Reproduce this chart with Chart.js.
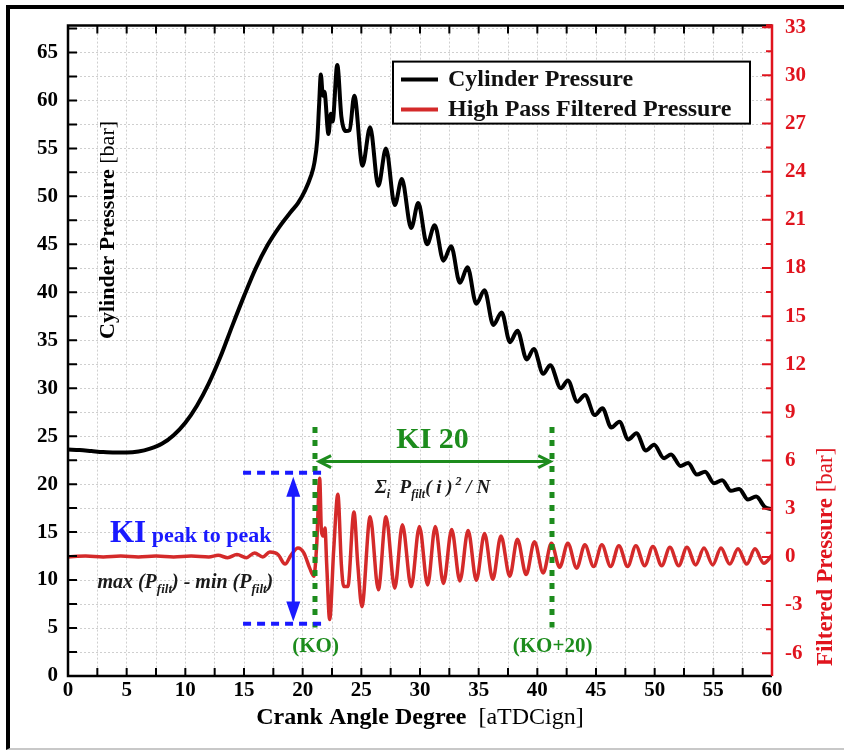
<!DOCTYPE html>
<html>
<head>
<meta charset="utf-8">
<script src="https://cdn.jsdelivr.net/npm/chart.js@4.4.0/dist/chart.umd.min.js"></script>
<style>
  html, body { margin: 0; padding: 0; background: #fff; }
  #wrap { position: relative; width: 844px; height: 750px; overflow: hidden; }
  #frame { position: absolute; left: 6px; top: 5px; width: 900px; height: 739px;
           border-left: 4px solid #000; border-top: 4px solid #000; border-bottom: 2px solid #c8c8c8;
           pointer-events: none; }
  canvas { position: absolute; left: 0; top: 0; }
</style>
</head>
<body>
<div id="wrap">
  <canvas id="chart" width="844" height="750"></canvas>
  <div id="frame"></div>
</div>
<script>
// Cylinder pressure [bar] vs crank angle [deg aTDCign]
const cylAngle = [0, 1, 2, 3, 4, 5, 6, 7, 8, 9, 10, 11, 12, 13, 14, 15, 16, 17, 18, 19,
  19.6, 20.2, 20.7, 21.0, 21.25, 21.4, 21.55, 21.72, 21.85, 22.2, 22.4, 22.55, 22.95, 23.3, 23.7, 24.0,
  24.4, 25.1, 25.75, 26.45, 27.1, 27.85, 28.45, 29.25, 29.85, 30.6, 31.25, 32.0, 32.65, 33.4, 34.05,
  34.8, 35.5, 36.25, 36.96, 37.67, 38.3, 39.1, 39.7, 40.5, 41.1, 42.0, 42.6, 43.4, 44.06, 44.9, 45.55,
  46.3, 47.0, 47.75, 48.45, 49.25, 49.95, 50.8, 51.4, 52.2, 52.85, 53.6, 54.3, 55.05, 55.75, 56.5,
  57.2, 57.95, 58.65, 59.4, 60.0];
const cylPressure = [23.6, 23.55, 23.45, 23.35, 23.3, 23.3, 23.4, 23.7, 24.2, 25.1, 26.4, 28.2, 30.5,
  33.3, 36.5, 39.6, 42.5, 44.9, 46.8, 48.4,
  49.3, 50.6, 52.1, 53.5, 56.0, 59.5, 62.7, 60.5, 60.9, 56.5, 58.6, 57.8, 63.7, 58.3, 56.8, 56.9,
  60.5, 53.2, 57.2, 51.1, 55.0, 49.1, 51.8, 46.7, 49.3, 45.0, 47.0, 43.3, 44.8, 41.0, 42.6,
  38.8, 40.2, 36.6, 37.9, 34.8, 36.0, 33.0, 34.1, 31.5, 32.4, 30.0, 30.8, 28.6, 29.3, 27.2, 27.9,
  25.9, 26.5, 24.65, 25.3, 23.5, 24.1, 22.7, 23.1, 21.9, 22.2, 21.0, 21.3, 20.1, 20.4, 19.3,
  19.5, 18.4, 18.7, 17.6, 17.4];

// High pass filtered pressure [bar]
const filtAngle = [0, 1.5, 3, 4.5, 6, 7.5, 9, 10.5, 12, 12.8, 13.6, 14.4, 15.2, 15.9, 16.6, 17.2,
  17.9, 18.5, 19.0, 19.6, 20.1, 20.6, 20.95, 21.2, 21.45, 21.6, 21.75, 21.9, 22.05, 22.3, 22.65,
  23.0, 23.3, 23.5, 23.85, 24.37, 24.7, 25.05, 25.75, 26.45, 27.1, 27.85, 28.5, 29.25, 29.95,
  30.65, 31.3, 32.0, 32.7, 33.4, 34.1, 34.8, 35.5, 36.2, 36.9, 37.65, 38.3, 39.05, 39.75, 40.5,
  41.2, 41.9, 42.6, 43.35, 44.05, 44.8, 45.5, 46.25, 46.95, 47.7, 48.4, 49.15, 49.85, 50.6, 51.3,
  52.05, 52.75, 53.5, 54.2, 54.95, 55.65, 56.4, 57.1, 57.85, 58.55, 59.3, 60];
const filtPressure = [0, 0.05, 0, 0.05, 0, 0.05, 0, 0.05, 0, 0.1, -0.05, 0.15, -0.05, 0.25, 0, 0.3,
  0.15, -0.45, 0.1, 0.55, 0.25, -0.7, -1.2, 0.8, 4.9, 1.6, 1.3, 1.8, -0.5, -3.9, 0.5,
  3.9, -0.5, -1.85, -1.85, 2.8, -0.5, -3.1, 2.5, -2.05, 2.5, -1.95, 2.0, -1.85, 1.9,
  -1.75, 1.9, -1.65, 1.7, -1.5, 1.65, -1.45, 1.45, -1.4, 1.3, -1.2, 1.1, -1.1, 0.95, -1.0,
  0.85, -0.65, 0.85, -0.7, 0.75, -0.6, 0.75, -0.6, 0.7, -0.6, 0.7, -0.55, 0.65, -0.55, 0.6,
  -0.55, 0.6, -0.5, 0.55, -0.5, 0.55, -0.45, 0.5, -0.45, 0.5, -0.4, 0.1];

const seriesNames = ['Cylinder Pressure', 'High Pass Filtered Pressure'];

const SERIF = '"Liberation Serif", "Times New Roman", serif';
const LINE_RED = '#d42a2a';
const AXIS_RED = '#e0141e';
const GREEN = '#1d8c1d';
const BLUE = '#1a1aff';

function isMultiple(v, step) {
   return Math.abs(v / step - Math.round(v / step)) < 1e-6;
}

function drawRich(ctx, parts, x, y, align, baseline) {
   let w = 0;
   parts.forEach(p => { ctx.font = p.font; w += ctx.measureText(p.text).width; });
   let cx = align === 'center' ? x - w / 2 : (align === 'right' ? x - w : x);
   ctx.textAlign = 'left';
   ctx.textBaseline = baseline || 'alphabetic';
   parts.forEach(p => {
      ctx.font = p.font;
      ctx.fillStyle = p.color;
      ctx.fillText(p.text, cx, y + (p.dy || 0));
      cx += ctx.measureText(p.text).width;
   });
}

function arrowHead(ctx, x, y, angle, len, half, filled) {
   ctx.save();
   ctx.translate(x, y);
   ctx.rotate(angle);
   ctx.beginPath();
   ctx.moveTo(-len, -half);
   ctx.lineTo(0, 0);
   ctx.lineTo(-len, half);
   if (filled) {
      ctx.closePath();
      ctx.fill();
   } else {
      ctx.stroke();
   }
   ctx.restore();
}

const decoPlugin = {
   id: 'deco',
   afterDatasetsDraw(chart) {
      const {ctx, scales} = chart;
      const X = v => scales.x.getPixelForValue(v);
      const Y = v => scales.y2.getPixelForValue(v);
      ctx.save();
      // KO and KO+20 markers
      ctx.strokeStyle = GREEN;
      ctx.lineWidth = 5;
      ctx.setLineDash([6, 7]);
      [21.05, 41.25].forEach(a => {
         ctx.beginPath();
         ctx.moveTo(X(a), Y(8.1));
         ctx.lineTo(X(a), Y(-4.4));
         ctx.stroke();
      });
      // max / min levels
      ctx.strokeStyle = BLUE;
      ctx.lineWidth = 4;
      ctx.setLineDash([8, 6]);
      [5.25, -4.17].forEach(v => {
         ctx.beginPath();
         ctx.moveTo(X(14.92), Y(v));
         ctx.lineTo(X(21.62), Y(v));
         ctx.stroke();
      });
      ctx.setLineDash([]);

      // blue double arrow
      const bx = X(19.2), by1 = Y(5.0), by2 = Y(-4.03);
      ctx.lineWidth = 3;
      ctx.strokeStyle = BLUE;
      ctx.fillStyle = BLUE;
      ctx.beginPath();
      ctx.moveTo(bx, by1 + 12);
      ctx.lineTo(bx, by2 - 12);
      ctx.stroke();
      arrowHead(ctx, bx, by1, -Math.PI / 2, 20, 7, true);
      arrowHead(ctx, bx, by2, Math.PI / 2, 20, 7, true);

      // green double arrow
      const gy = Y(5.94), gx1 = X(21.4), gx2 = X(41.1);
      ctx.strokeStyle = GREEN;
      ctx.lineWidth = 3;
      ctx.beginPath();
      ctx.moveTo(gx1, gy);
      ctx.lineTo(gx2, gy);
      ctx.stroke();
      arrowHead(ctx, gx1, gy, Math.PI, 12, 6, false);
      arrowHead(ctx, gx2, gy, 0, 12, 6, false);

      // texts
      drawRich(ctx, [{text: 'KI 20', font: `bold 30px ${SERIF}`, color: GREEN}], X(31.07), Y(6.8), 'center');
      const fi = `italic bold 19px ${SERIF}`, fs = `italic bold 12px ${SERIF}`, dark = '#1a1a1a';
      drawRich(ctx, [
         {text: 'Σ', font: fi, color: dark},
         {text: 'i', font: fs, color: dark, dy: 5},
         {text: '  P', font: fi, color: dark},
         {text: 'filt', font: fs, color: dark, dy: 5},
         {text: '( i )', font: fi, color: dark},
         {text: ' 2', font: fs, color: dark, dy: -8},
         {text: ' / N', font: fi, color: dark}
      ], X(31.07), Y(4.0), 'center');

      drawRich(ctx, [{text: '(KO)', font: `bold 21px ${SERIF}`, color: GREEN}], X(21.1), Y(-5.95), 'center');
      drawRich(ctx, [{text: '(KO+20)', font: `bold 21px ${SERIF}`, color: GREEN}], X(41.3), Y(-5.95), 'center');

      drawRich(ctx, [
         {text: 'KI', font: `bold 31px ${SERIF}`, color: BLUE},
         {text: ' peak to peak', font: `bold 22px ${SERIF}`, color: BLUE}
      ], X(3.58), Y(0.95), 'left');

      const mi = `italic bold 20px ${SERIF}`, ms = `italic bold 13px ${SERIF}`;
      drawRich(ctx, [
         {text: 'max (P', font: mi, color: dark},
         {text: 'filt', font: ms, color: dark, dy: 5},
         {text: ') - min (P', font: mi, color: dark},
         {text: 'filt', font: ms, color: dark, dy: 5},
         {text: ')', font: mi, color: dark}
      ], X(10.0), Y(-1.95), 'center');
      ctx.restore();
   },
   afterDraw(chart) {
      const {ctx, chartArea: a, scales} = chart;
      ctx.save();
      // inward tick marks
      ctx.strokeStyle = '#000';
      ctx.lineWidth = 2;
      ctx.beginPath();
      scales.x.ticks.forEach(t => {
         const px = scales.x.getPixelForValue(t.value);
         ctx.moveTo(px, a.bottom); ctx.lineTo(px, a.bottom - 8);
         ctx.moveTo(px, a.top); ctx.lineTo(px, a.top + 8);
      });
      scales.y.ticks.forEach(t => {
         const py = scales.y.getPixelForValue(t.value);
         ctx.moveTo(a.left, py); ctx.lineTo(a.left + 9, py);
      });
      ctx.stroke();
      ctx.lineWidth = 2.5;
      ctx.beginPath();
      ctx.moveTo(a.right, a.top);
      ctx.lineTo(a.left, a.top);
      ctx.lineTo(a.left, a.bottom);
      ctx.lineTo(a.right, a.bottom);
      ctx.stroke();

      ctx.strokeStyle = AXIS_RED;
      ctx.lineWidth = 2;
      ctx.beginPath();
      scales.y2.ticks.forEach(t => {
         const py = scales.y2.getPixelForValue(t.value);
         const len = isMultiple(t.value, 3) ? 10 : 6;
         ctx.moveTo(a.right, py); ctx.lineTo(a.right - len, py);
      });
      ctx.stroke();
      ctx.lineWidth = 2.5;
      ctx.beginPath();
      ctx.moveTo(a.right - 6, a.top);
      ctx.lineTo(a.right, a.top);
      ctx.lineTo(a.right, a.bottom);
      ctx.stroke();

      // legend box
      const lx = a.left + 325, ly = a.top + 36, lw = 357, lh = 62;
      ctx.fillStyle = '#fff';
      ctx.fillRect(lx, ly, lw, lh);
      ctx.strokeStyle = '#000';
      ctx.lineWidth = 2;
      ctx.strokeRect(lx, ly, lw, lh);
      chart.data.datasets.forEach((ds, i) => {
         const yy = ly + 18 + i * 30;
         ctx.strokeStyle = ds.borderColor;
         ctx.lineWidth = 4;
         ctx.beginPath();
         ctx.moveTo(lx + 8, yy);
         ctx.lineTo(lx + 45, yy);
         ctx.stroke();
         drawRich(ctx, [{text: ds.label, font: `bold 24px ${SERIF}`, color: '#111'}], lx + 55, yy, 'left', 'middle');
      });

      // axis titles
      ctx.save();
      ctx.translate(108, scales.y.getPixelForValue(46.5));
      ctx.rotate(-Math.PI / 2);
      drawRich(ctx, [
         {text: 'Cylinder Pressure ', font: `bold 22px ${SERIF}`, color: '#000'},
         {text: '[bar]', font: `22px ${SERIF}`, color: '#000'}
      ], 0, 0, 'center', 'middle');
      ctx.restore();

      ctx.save();
      ctx.translate(a.right + 54, scales.y2.getPixelForValue(0));
      ctx.rotate(-Math.PI / 2);
      drawRich(ctx, [
         {text: 'Filtered Pressure ', font: `bold 23px ${SERIF}`, color: AXIS_RED},
         {text: '[bar]', font: `23px ${SERIF}`, color: AXIS_RED}
      ], 0, 0, 'center', 'middle');
      ctx.restore();

      drawRich(ctx, [
         {text: 'Crank Angle Degree  ', font: `bold 24px ${SERIF}`, color: '#000'},
         {text: '[aTDCign]', font: `24px ${SERIF}`, color: '#000'}
      ], (a.left + a.right) / 2, a.bottom + 42, 'center', 'middle');
      ctx.restore();
   }
};

const tickFont = {family: SERIF, size: 21, weight: 'bold'};
const gridStyle = {color: '#cfcfcf', lineWidth: 1, drawTicks: false, borderDash: [2, 2]};

new Chart(document.getElementById('chart'), {
   type: 'line',
   data: {
      datasets: [{
         label: seriesNames[0],
         data: cylAngle.map((a, i) => ({x: a, y: cylPressure[i]})),
         yAxisID: 'y',
         borderColor: '#000',
         borderWidth: 4,
         pointRadius: 0,
         cubicInterpolationMode: 'monotone',
         fill: false
      }, {
         label: seriesNames[1],
         data: filtAngle.map((a, i) => ({x: a, y: filtPressure[i]})),
         yAxisID: 'y2',
         borderColor: LINE_RED,
         borderWidth: 3.5,
         pointRadius: 0,
         cubicInterpolationMode: 'monotone',
         fill: false
      }]
   },
   options: {
      responsive: false,
      animation: false,
      devicePixelRatio: 1,
      events: [],
      layout: {padding: {top: 25, left: 0, right: 0, bottom: 0}},
      plugins: {legend: {display: false}, tooltip: {enabled: false}},
      scales: {
         x: {
            type: 'linear',
            min: 0, max: 60,
            grid: gridStyle,
            border: {display: false, dash: [2, 2]},
            ticks: {
               stepSize: 2.5, autoSkip: false, maxRotation: 0, includeBounds: false,
               font: tickFont, color: '#000', padding: 2,
               callback: v => isMultiple(v, 5) ? v : ''
            },
            afterFit(scale) { scale.height = 74; }
         },
         y: {
            position: 'left',
            min: 0, max: 67.8,
            grid: gridStyle,
            border: {display: false, dash: [2, 2]},
            ticks: {
               stepSize: 2.5, autoSkip: false, includeBounds: false,
               font: tickFont, color: '#000', padding: 10,
               callback: v => isMultiple(v, 5) ? v : ''
            },
            afterFit(scale) { scale.width = 68; }
         },
         y2: {
            position: 'right',
            min: -7.42, max: 33.1,
            grid: {drawOnChartArea: false, drawTicks: false},
            border: {display: false},
            ticks: {
               stepSize: 1.5, autoSkip: false, includeBounds: false,
               font: tickFont, color: AXIS_RED, padding: 13,
               callback: v => isMultiple(v, 3) ? Math.round(v) : ''
            },
            afterFit(scale) { scale.width = 72; }
         }
      }
   },
   plugins: [decoPlugin]
});
</script>
</body>
</html>
